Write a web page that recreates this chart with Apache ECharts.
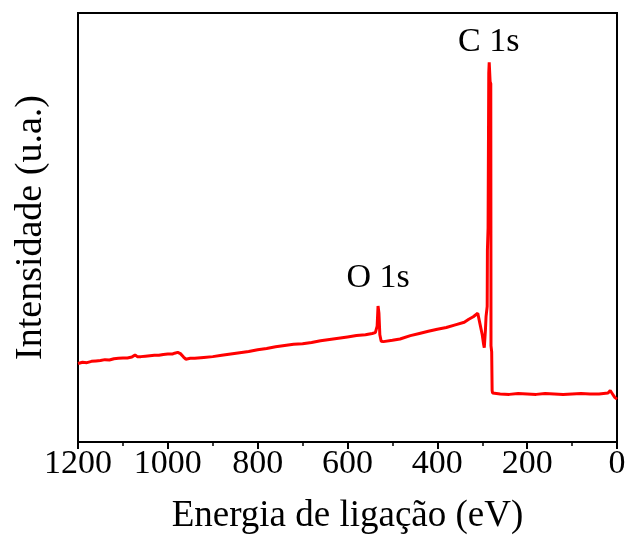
<!DOCTYPE html>
<html>
<head>
<meta charset="utf-8">
<script src="https://cdn.jsdelivr.net/npm/echarts@6/dist/echarts.min.js"></script>
<style>html,body{margin:0;padding:0;background:#fff;}#c{width:630px;height:540px;}</style>
</head>
<body>
<div id="c"></div>
<script>
// Binding energy (eV), descending
const energy = [
  1200,1190,1180,1170,1160,1150,1140,1130,1120,1110,1100,1090,1080,1073,1068,1060,1050,1040,1030,1020,
  1010,1000,990,985,978,972,965,960,955,950,940,920,900,880,860,840,820,800,780,760,
  740,720,700,680,660,640,620,600,580,560,545,538,534,532,530,528,525,520,500,483,
  460,440,420,400,380,360,340,330,320,315,310,306,300,297,295.5,293,291.5,289,288.5,287,
  285.5,284.5,283.5,282.5,281,280.5,279,278,277,274,260,240,220,200,180,160,140,120,100,
  80,60,40,30,20,15,10,5,0
];
const intensity = [
  18.3,18.6,18.5,18.8,18.9,19.0,19.2,19.1,19.4,19.5,19.6,19.6,19.8,20.3,19.9,19.9,20.0,20.1,20.2,20.2,
  20.4,20.5,20.5,20.7,20.9,20.6,19.8,19.3,19.4,19.5,19.5,19.7,19.9,20.2,20.5,20.8,21.1,21.5,21.8,22.2,
  22.5,22.8,22.9,23.2,23.6,23.9,24.2,24.5,24.8,25.0,25.3,25.5,27.0,31.7,30.0,25.0,23.5,23.4,23.7,24.0,
  24.8,25.3,25.8,26.3,26.7,27.3,27.9,28.6,29.2,29.6,30.0,28.0,25.0,22.8,22.0,26.0,29.3,31.6,44.7,50.0,
  86.0,88.5,88.3,84.0,83.5,22.4,21.0,12.0,11.4,11.1,11.2,11.1,11.3,11.2,11.1,11.3,11.2,11.1,11.2,
  11.3,11.2,11.2,11.3,11.4,12.0,11.2,10.4,10.0
];
// Peak annotations: [label, energy, intensity]
const peakLabels = [["C 1s", 285.5, 88.5], ["O 1s", 532, 31.7]];
const xTicks = [0, 200, 400, 600, 800, 1000, 1200];

const serif = 'Liberation Serif';
const chart = echarts.init(document.getElementById('c'));
chart.setOption({
  animation: false,
  backgroundColor: '#fff',
  grid: { left: 78, right: 13, top: 13, bottom: 93, show: true, borderColor: '#000', borderWidth: 2, backgroundColor: 'transparent' },
  xAxis: {
    type: 'value', inverse: true, min: 0, max: 1200, interval: 200,
    name: 'Energia de ligação (eV)', nameLocation: 'middle', nameGap: 56,
    nameTextStyle: { fontFamily: serif, fontSize: 37, color: '#000' },
    axisLine: { show: true, onZero: false, lineStyle: { color: '#000', width: 2 } },
    axisTick: { show: true, inside: false, length: 7, lineStyle: { color: '#000', width: 2 } },
    minorTick: { show: true, splitNumber: 2, length: 4, lineStyle: { color: '#000', width: 1.5 } },
    axisLabel: { fontFamily: serif, fontSize: 34, color: '#000', margin: 5,
      formatter: v => xTicks.includes(v) ? String(v) : '' },
    splitLine: { show: false }
  },
  yAxis: {
    type: 'value', min: 0, max: 100,
    name: 'Intensidade (u.a.)', nameLocation: 'middle', nameGap: 28,
    nameTextStyle: { fontFamily: serif, fontSize: 38, color: '#000' },
    axisLine: { show: true, lineStyle: { color: '#000', width: 2 } },
    axisTick: { show: false }, axisLabel: { show: false }, splitLine: { show: false }
  },
  series: [{
    type: 'line',
    data: energy.map((e, i) => [e, intensity[i]]),
    showSymbol: false, symbol: 'none',
    lineStyle: { color: '#ff0000', width: 3 },
    markPoint: {
      symbol: 'circle', symbolSize: 0,
      label: { show: true, fontFamily: serif, fontSize: 34, color: '#000',
        formatter: p => p.name },
      data: peakLabels.map(p => ({ name: p[0], coord: [p[1], p[2]],
        label: { offset: [0, p[0] === 'C 1s' ? -20 : -28] } }))
    }
  }]
});
</script>
</body>
</html>
